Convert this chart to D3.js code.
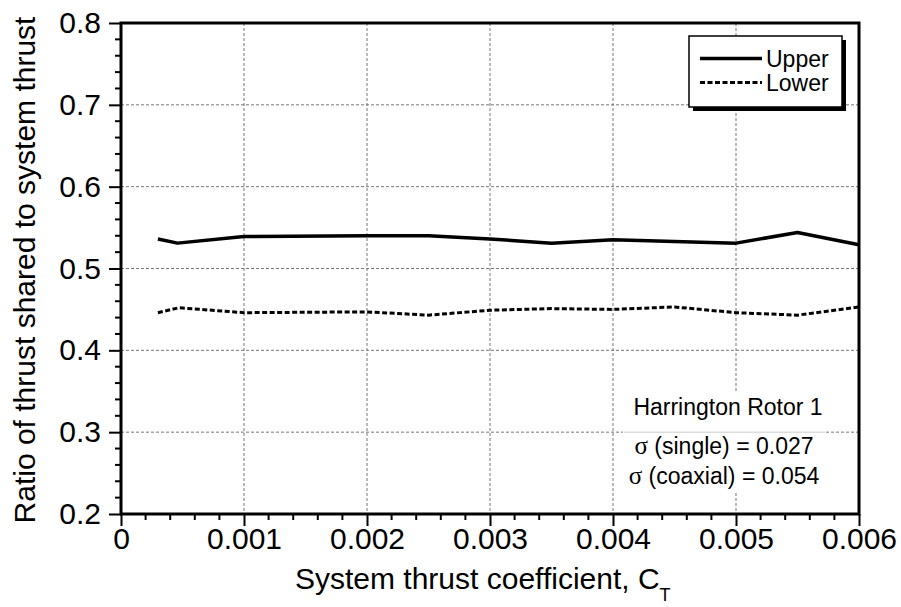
<!DOCTYPE html>
<html><head><meta charset="utf-8">
<script src="https://cdn.jsdelivr.net/npm/d3@7"></script>
<style>
body{margin:0;background:#fff;}
text{font-family:"Liberation Sans",Arial,sans-serif;fill:#000;}
</style></head>
<body><svg id="chart" width="901" height="607"></svg>
<script>
const upperCT  = [0.0003, 0.00046, 0.001, 0.002, 0.0025, 0.003, 0.0035, 0.004, 0.005, 0.0055, 0.006];
const upperVal = [0.536, 0.531, 0.539, 0.540, 0.540, 0.536, 0.531, 0.535, 0.531, 0.544, 0.529];
const lowerCT  = [0.0003, 0.00047, 0.001, 0.002, 0.0025, 0.003, 0.0035, 0.004, 0.0045, 0.005, 0.0055, 0.006];
const lowerVal = [0.446, 0.452, 0.446, 0.447, 0.443, 0.449, 0.451, 0.450, 0.453, 0.446, 0.443, 0.453];
const xTicks = [0, 0.001, 0.002, 0.003, 0.004, 0.005, 0.006];
const xTickLabels = ["0", "0.001", "0.002", "0.003", "0.004", "0.005", "0.006"];
const yTicks = [0.2, 0.3, 0.4, 0.5, 0.6, 0.7, 0.8];
const yTickLabels = ["0.2", "0.3", "0.4", "0.5", "0.6", "0.7", "0.8"];
const seriesNames = ["Upper", "Lower"];
const annotation = ["Harrington Rotor 1", "(single) = 0.027", "(coaxial) = 0.054"];

const svg = d3.select("#chart");
const L = 121, R = 859, T = 23, B = 514;
const x = d3.scaleLinear().domain([0, 0.006]).range([L, R]);
const y = d3.scaleLinear().domain([0.2, 0.8]).range([B, T]);

// gridlines
const grid = svg.append("g");
grid.selectAll(".gx").data(xTicks.slice(1, -1)).join("line")
  .attr("x1", d => x(d)).attr("x2", d => x(d)).attr("y1", T).attr("y2", B)
  .attr("stroke", "#777").attr("stroke-width", 1).attr("stroke-dasharray", "3,2");
grid.selectAll(".gy").data(yTicks.slice(1, -1)).join("line")
  .attr("x1", L).attr("x2", R).attr("y1", d => y(d)).attr("y2", d => y(d))
  .attr("stroke", "#777").attr("stroke-width", 1).attr("stroke-dasharray", "3,2");

// annotation background
svg.append("rect").attr("x", 623).attr("y", 393).attr("width", 203).attr("height", 100).attr("fill", "#fff");
svg.append("line").attr("x1", 624).attr("x2", 825).attr("y1", y(0.3)).attr("y2", y(0.3))
  .attr("stroke", "#ccc").attr("stroke-width", 1);

// lines
const line = d3.line().x(d => x(d[0])).y(d => y(d[1]));
svg.append("path").datum(upperCT.map((c, i) => [c, upperVal[i]]))
  .attr("d", line).attr("fill", "none").attr("stroke", "#000").attr("stroke-width", 3.5)
  .attr("stroke-linejoin", "round");
svg.append("path").datum(lowerCT.map((c, i) => [c, lowerVal[i]]))
  .attr("d", line).attr("fill", "none").attr("stroke", "#000").attr("stroke-width", 3)
  .attr("stroke-dasharray", "5,2.5");

// axes ticks
const xAxis = d3.axisBottom(x).tickValues(xTicks).tickFormat((d, i) => xTickLabels[i]).tickSize(12).tickPadding(2);
const gx = svg.append("g").attr("transform", `translate(0,${B})`).call(xAxis);
gx.select(".domain").remove();
gx.selectAll(".tick line").attr("stroke", "#000").attr("stroke-width", 2);
gx.selectAll(".tick text").attr("font-size", 30).attr("font-family", "Liberation Sans, Arial, sans-serif");
const xMinor = d3.range(0, 31).map(i => i * 0.0002).filter((d, i) => i % 5 !== 0);
svg.append("g").selectAll("line").data(xMinor).join("line")
  .attr("x1", d => x(d)).attr("x2", d => x(d)).attr("y1", B).attr("y2", B + 6)
  .attr("stroke", "#000").attr("stroke-width", 2);

const yAxis = d3.axisLeft(y).tickValues(yTicks).tickFormat((d, i) => yTickLabels[i]).tickSize(12).tickPadding(8);
const gy = svg.append("g").attr("transform", `translate(${L},0)`).call(yAxis);
gy.select(".domain").remove();
gy.selectAll(".tick line").attr("stroke", "#000").attr("stroke-width", 2);
gy.selectAll(".tick text").attr("font-size", 30).attr("font-family", "Liberation Sans, Arial, sans-serif");
const yMinor = d3.range(0, 31).map(i => 0.2 + i * 0.02).filter((d, i) => i % 5 !== 0);
svg.append("g").selectAll("line").data(yMinor).join("line")
  .attr("x1", L - 6).attr("x2", L).attr("y1", d => y(d)).attr("y2", d => y(d))
  .attr("stroke", "#000").attr("stroke-width", 2);

// frame
svg.append("rect").attr("x", L).attr("y", T).attr("width", R - L).attr("height", B - T)
  .attr("fill", "none").attr("stroke", "#000").attr("stroke-width", 3);

// axis titles
const xt = svg.append("text").attr("x", 295).attr("y", 589).attr("font-size", 30);
xt.append("tspan").text("System thrust coefficient, C");
xt.append("tspan").attr("dy", 12).attr("font-size", 18).text("T");
svg.append("text").attr("transform", "translate(35,270) rotate(-90)").attr("text-anchor", "middle")
  .attr("font-size", 30).text("Ratio of thrust shared to system thrust");

// legend
const lg = svg.append("g");
lg.append("rect").attr("x", 693).attr("y", 40).attr("width", 153).attr("height", 71).attr("fill", "#000");
lg.append("rect").attr("x", 689).attr("y", 36).attr("width", 153).attr("height", 71)
  .attr("fill", "#fff").attr("stroke", "#000").attr("stroke-width", 1.5);
[0, 1].forEach(i => {
  const yy = 58.5 + i * 24;
  lg.append("line").attr("x1", 700).attr("x2", 762).attr("y1", yy).attr("y2", yy)
    .attr("stroke", "#000").attr("stroke-width", i === 0 ? 3.5 : 3)
    .attr("stroke-dasharray", i === 0 ? null : "5,2.5");
  lg.append("text").attr("x", 766).attr("y", yy + 8).attr("font-size", 23).text(seriesNames[i]);
});

// annotation
svg.append("text").attr("x", 728).attr("y", 415).attr("text-anchor", "middle").attr("font-size", 23).text(annotation[0]);
[1, 2].forEach((k, j) => {
  const t = svg.append("text").attr("x", 724).attr("y", 454 + j * 30).attr("text-anchor", "middle").attr("font-size", 23);
  t.append("tspan").attr("font-family", "Liberation Serif, Times New Roman, serif").attr("font-size", 25).text("σ");
  t.append("tspan").text(" " + annotation[k]);
});
</script></body></html>
